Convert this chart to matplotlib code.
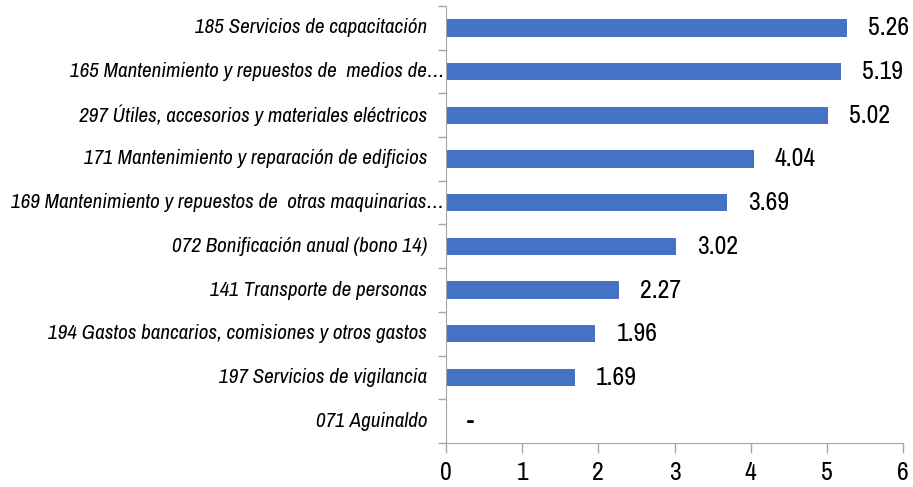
import matplotlib
matplotlib.use("Agg")
import matplotlib.pyplot as plt

categories = [
    "185 Servicios de capacitación",
    "165 Mantenimiento y repuestos de  medios de…",
    "297 Útiles, accesorios y materiales eléctricos",
    "171 Mantenimiento y reparación de edificios",
    "169 Mantenimiento y repuestos de  otras maquinarias…",
    "072 Bonificación anual (bono 14)",
    "141 Transporte de personas",
    "194 Gastos bancarios, comisiones y otros gastos",
    "197 Servicios de vigilancia",
    "071 Aguinaldo",
]
values = [5.26, 5.19, 5.02, 4.04, 3.69, 3.02, 2.27, 1.96, 1.69, 0.0]
value_labels = ["5.26", "5.19", "5.02", "4.04", "3.69", "3.02", "2.27", "1.96", "1.69", "-"]
xticks = [0, 1, 2, 3, 4, 5, 6]

plt.rcParams["font.family"] = ["Archivo Narrow", "DejaVu Sans"]

fig = plt.figure(figsize=(9.13, 4.87), dpi=100)
ax = fig.add_axes([446/913, 1-443/487, 457/913, 437/487])

n = len(categories)
ypos = list(range(n))
ax.barh(ypos, values, height=0.4, color="#4472C4")
ax.set_ylim(n - 0.5, -0.5)
ax.set_xlim(0, 6)

ax.set_yticks([i - 0.5 for i in range(n + 1)])
ax.set_yticklabels([])
ax.tick_params(axis="y", which="major", length=6, color="#A6A6A6", width=1)

for y, lab in zip(ypos, categories):
    off = -2 if lab.endswith("…") else -19
    ax.annotate(lab, (0, y), xycoords=("axes fraction", "data"), xytext=(off, 0),
                textcoords="offset pixels", ha="right", va="center",
                fontsize=15.2, style="italic", annotation_clip=False)

ax.set_xticks(xticks)
ax.set_xticklabels([str(t) for t in xticks], fontsize=18.5)
ax.tick_params(axis="x", length=7, color="#A6A6A6", width=1, pad=6)

for s in ["top", "right"]:
    ax.spines[s].set_visible(False)
for s in ["left", "bottom"]:
    ax.spines[s].set_color("#A6A6A6")

for y, v, lab in zip(ypos, values, value_labels):
    ax.annotate(lab, (v, y), xytext=(21, 0), textcoords="offset pixels",
                va="center", ha="left", fontsize=18.5)

fig.savefig("out.png", dpi=100)
